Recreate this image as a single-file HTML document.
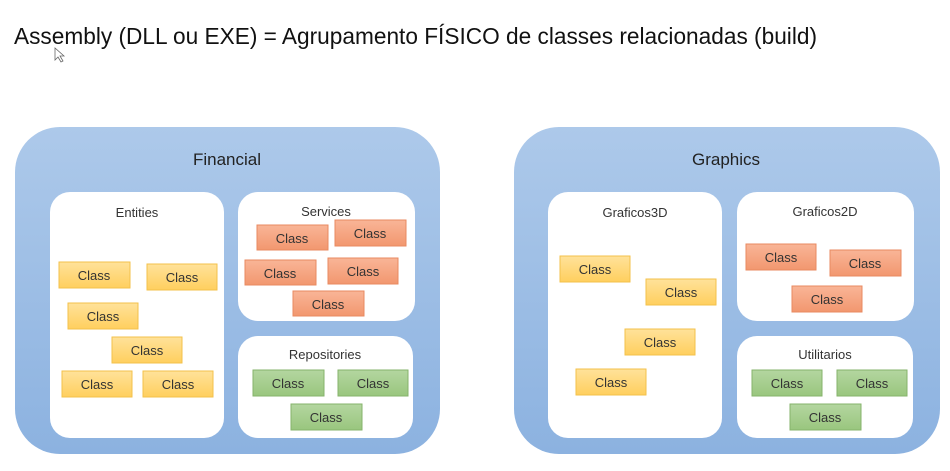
<!DOCTYPE html>
<html><head><meta charset="utf-8"><style>
html,body{margin:0;padding:0;background:#fff;}
svg{display:block;font-family:"Liberation Sans",sans-serif;}
</style></head><body>
<svg width="950" height="471" viewBox="0 0 950 471" xmlns="http://www.w3.org/2000/svg">
<defs>
<linearGradient id="blue" x1="0" y1="0" x2="0" y2="1"><stop offset="0" stop-color="#adc9ea"/><stop offset="1" stop-color="#8cb2e0"/></linearGradient>
<linearGradient id="yel" x1="0" y1="0" x2="0" y2="1"><stop offset="0" stop-color="#ffe29a"/><stop offset="1" stop-color="#ffcf5e"/></linearGradient>
<linearGradient id="ora" x1="0" y1="0" x2="0" y2="1"><stop offset="0" stop-color="#f9b597"/><stop offset="1" stop-color="#f2976f"/></linearGradient>
<linearGradient id="grn" x1="0" y1="0" x2="0" y2="1"><stop offset="0" stop-color="#b4d6a0"/><stop offset="1" stop-color="#99c67e"/></linearGradient>
<style>
.y{fill:url(#yel);stroke:#f3c14b;stroke-width:1}
.o{fill:url(#ora);stroke:#e88a60;stroke-width:1}
.g{fill:url(#grn);stroke:#86b36b;stroke-width:1}
.c{font-size:13px;fill:#333;text-anchor:middle}
.h{font-size:13px;fill:#333;text-anchor:middle}
.t{font-size:17px;fill:#222;text-anchor:middle}
</style>
</defs>
<text x="14" y="44" font-size="23" fill="#111" textLength="803" lengthAdjust="spacingAndGlyphs">Assembly (DLL ou EXE) = Agrupamento FÍSICO de classes relacionadas (build)</text>
<path d="M55 48 L55 60 L58 57 L61 62 L63 61 L60 56 L64 56 Z" fill="#fff" stroke="#666" stroke-width="0.8"/>

<!-- Financial -->
<rect x="15" y="127" width="425" height="327" rx="45" fill="url(#blue)"/>
<text class="t" x="227" y="165">Financial</text>
<rect x="50" y="192" width="174" height="246" rx="20" fill="#fff"/>
<text class="h" x="137" y="217">Entities</text>
<rect x="238" y="192" width="177" height="129" rx="20" fill="#fff"/>
<text class="h" x="326" y="216">Services</text>
<rect x="238" y="336" width="175" height="102" rx="20" fill="#fff"/>
<text class="h" x="325" y="359">Repositories</text>

<g>
<rect class="y" x="59" y="262" width="71" height="26"/><text class="c" x="94" y="280">Class</text>
<rect class="y" x="147" y="264" width="70" height="26"/><text class="c" x="182" y="282">Class</text>
<rect class="y" x="68" y="303" width="70" height="26"/><text class="c" x="103" y="321">Class</text>
<rect class="y" x="112" y="337" width="70" height="26"/><text class="c" x="147" y="355">Class</text>
<rect class="y" x="62" y="371" width="70" height="26"/><text class="c" x="97" y="389">Class</text>
<rect class="y" x="143" y="371" width="70" height="26"/><text class="c" x="178" y="389">Class</text>

<rect class="o" x="257" y="225" width="71" height="25"/><text class="c" x="292" y="243">Class</text>
<rect class="o" x="335" y="220" width="71" height="26"/><text class="c" x="370" y="238">Class</text>
<rect class="o" x="245" y="260" width="71" height="25"/><text class="c" x="280" y="278">Class</text>
<rect class="o" x="328" y="258" width="70" height="26"/><text class="c" x="363" y="276">Class</text>
<rect class="o" x="293" y="291" width="71" height="25"/><text class="c" x="328" y="309">Class</text>

<rect class="g" x="253" y="370" width="71" height="26"/><text class="c" x="288" y="388">Class</text>
<rect class="g" x="338" y="370" width="70" height="26"/><text class="c" x="373" y="388">Class</text>
<rect class="g" x="291" y="404" width="71" height="26"/><text class="c" x="326" y="422">Class</text>
</g>

<!-- Graphics -->
<rect x="514" y="127" width="426" height="327" rx="45" fill="url(#blue)"/>
<text class="t" x="726" y="165">Graphics</text>
<rect x="548" y="192" width="174" height="246" rx="20" fill="#fff"/>
<text class="h" x="635" y="217">Graficos3D</text>
<rect x="737" y="192" width="177" height="129" rx="20" fill="#fff"/>
<text class="h" x="825" y="216">Graficos2D</text>
<rect x="737" y="336" width="176" height="102" rx="20" fill="#fff"/>
<text class="h" x="825" y="359">Utilitarios</text>

<g>
<rect class="y" x="560" y="256" width="70" height="26"/><text class="c" x="595" y="274">Class</text>
<rect class="y" x="646" y="279" width="70" height="26"/><text class="c" x="681" y="297">Class</text>
<rect class="y" x="625" y="329" width="70" height="26"/><text class="c" x="660" y="347">Class</text>
<rect class="y" x="576" y="369" width="70" height="26"/><text class="c" x="611" y="387">Class</text>

<rect class="o" x="746" y="244" width="70" height="26"/><text class="c" x="781" y="262">Class</text>
<rect class="o" x="830" y="250" width="71" height="26"/><text class="c" x="865" y="268">Class</text>
<rect class="o" x="792" y="286" width="70" height="26"/><text class="c" x="827" y="304">Class</text>

<rect class="g" x="752" y="370" width="70" height="26"/><text class="c" x="787" y="388">Class</text>
<rect class="g" x="837" y="370" width="70" height="26"/><text class="c" x="872" y="388">Class</text>
<rect class="g" x="790" y="404" width="71" height="26"/><text class="c" x="825" y="422">Class</text>
</g>
</svg>
</body></html>
